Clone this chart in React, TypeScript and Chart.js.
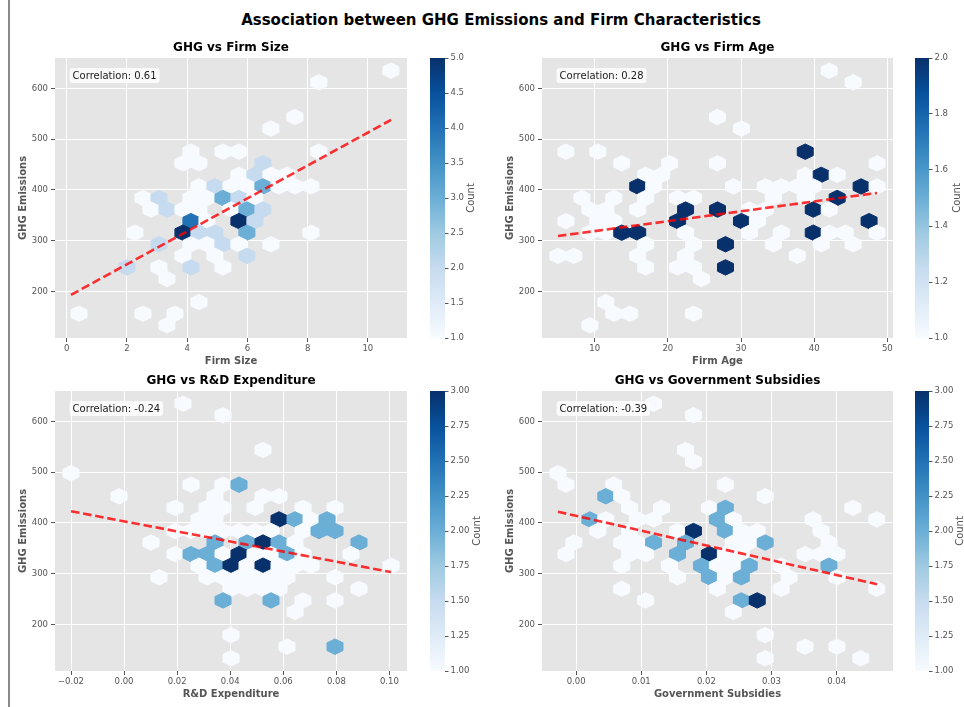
import React, { useEffect, useRef } from 'react';
import { Chart, registerables } from 'chart.js';

Chart.register(...registerables);
Chart.defaults.font.family = "'DejaVu Sans', 'Liberation Sans', sans-serif";

const mainTitle = 'Association between GHG Emissions and Firm Characteristics';

// Shared GHG Emissions axis: hex grid [ymin, row pitch], axis range, ticks
const ghgGrid = [133, 45.64];
const ghgRange = [107.9, 660.1];
const ghgTicks = [200, 300, 400, 500, 600];
const ghgLabel = 'GHG Emissions';

// ---- GHG vs Firm Size ----
const sizeTitle = 'GHG vs Firm Size';
const sizeLabel = 'Firm Size';
const sizeGrid = [0.144, 0.531];
const sizeRange = [-0.387, 11.3];
const sizeTicks = [0, 2, 4, 6, 8, 10];
const sizeTickLabels = ['0', '2', '4', '6', '8', '10'];
// [hex row, hex column, count]
const sizeCells = [
  [22, 20, 1], [21, 15, 1], [18, 14, 1], [17, 12, 1],
  [15, 7, 1], [15, 9, 1], [15, 10, 1], [15, 15, 1],
  [14, 7, 1], [14, 8, 1], [14, 12, 2],
  [13, 10, 1], [13, 11, 2], [13, 12, 1], [13, 13, 1],
  [12, 8, 1], [12, 9, 2], [12, 10, 1], [12, 11, 1], [12, 12, 3], [12, 13, 1], [12, 14, 1], [12, 15, 1],
  [11, 4, 1], [11, 5, 2], [11, 7, 1], [11, 8, 1], [11, 9, 3], [11, 10, 2], [11, 11, 1],
  [10, 5, 1], [10, 6, 2], [10, 7, 1], [10, 8, 1], [10, 10, 1], [10, 11, 3], [10, 12, 2],
  [9, 7, 4], [9, 8, 1], [9, 10, 5], [9, 11, 2],
  [8, 4, 1], [8, 7, 5], [8, 8, 2], [8, 9, 2], [8, 11, 3], [8, 15, 1],
  [7, 5, 2], [7, 7, 1], [7, 8, 1], [7, 9, 2], [7, 10, 1], [7, 12, 1],
  [6, 7, 1], [6, 9, 1], [6, 11, 2],
  [5, 3, 2], [5, 5, 1], [5, 7, 2], [5, 9, 1],
  [4, 6, 1], [2, 8, 1], [1, 0, 1], [1, 4, 1], [1, 6, 1], [0, 6, 1],
];
const sizeFitX = [0.144, 10.77];
const sizeFitY = [193, 538];
const sizeCorr = 'Correlation: 0.61';
const sizeCbTicks = [1, 1.5, 2, 2.5, 3, 3.5, 4, 4.5, 5];
const sizeCbLabels = ['1.0', '1.5', '2.0', '2.5', '3.0', '3.5', '4.0', '4.5', '5.0'];

// ---- GHG vs Firm Age ----
const ageTitle = 'GHG vs Firm Age';
const ageLabel = 'Firm Age';
const ageGrid = [4.97, 2.1815];
const ageRange = [2.79, 50.78];
const ageTicks = [10, 20, 30, 40, 50];
const ageTickLabels = ['10', '20', '30', '40', '50'];
const ageCells = [
  [22, 17, 1], [21, 18, 1], [18, 10, 1], [17, 11, 1],
  [15, 0, 1], [15, 2, 1], [15, 15, 2],
  [14, 4, 1], [14, 7, 1], [14, 10, 1], [14, 20, 1],
  [13, 5, 1], [13, 6, 1], [13, 15, 1], [13, 16, 2], [13, 17, 1],
  [12, 5, 2], [12, 6, 1], [12, 11, 1], [12, 13, 1], [12, 14, 1], [12, 15, 1], [12, 16, 1], [12, 19, 2], [12, 20, 1],
  [11, 1, 1], [11, 3, 1], [11, 5, 1], [11, 7, 1], [11, 8, 1], [11, 13, 1], [11, 15, 1], [11, 17, 2],
  [10, 2, 1], [10, 3, 1], [10, 5, 1], [10, 8, 2], [10, 10, 2], [10, 12, 1], [10, 13, 1], [10, 16, 2], [10, 17, 1],
  [9, 0, 1], [9, 2, 1], [9, 3, 1], [9, 7, 2], [9, 11, 2], [9, 12, 1], [9, 19, 2],
  [8, 2, 1], [8, 3, 1], [8, 4, 2], [8, 5, 2], [8, 8, 1], [8, 12, 1], [8, 14, 1], [8, 16, 2], [8, 17, 1], [8, 18, 1], [8, 20, 1],
  [7, 5, 1], [7, 8, 1], [7, 10, 2], [7, 13, 1], [7, 16, 1], [7, 18, 1],
  [6, 0, 1], [6, 1, 1], [6, 5, 1], [6, 8, 1], [6, 15, 1],
  [5, 5, 1], [5, 7, 1], [5, 8, 1], [5, 10, 2],
  [4, 9, 1], [2, 3, 1], [1, 3, 1], [1, 4, 1], [1, 8, 1], [0, 2, 1],
];
const ageFitX = [4.97, 48.6];
const ageFitY = [309, 394];
const ageCorr = 'Correlation: 0.28';
const ageCbTicks = [1, 1.2, 1.4, 1.6, 1.8, 2];
const ageCbLabels = ['1.0', '1.2', '1.4', '1.6', '1.8', '2.0'];

// ---- GHG vs R&D Expenditure ----
const rdTitle = 'GHG vs R&D Expenditure';
const rdLabel = 'R&D Expenditure';
const rdGrid = [-0.02, 0.00603];
const rdRange = [-0.02603, 0.10663];
const rdTicks = [-0.02, 0, 0.02, 0.04, 0.06, 0.08, 0.1];
const rdTickLabels = ['\u22120.02', '0.00', '0.02', '0.04', '0.06', '0.08', '0.10'];
const rdCells = [
  [22, 7, 1], [21, 9, 1], [18, 12, 1], [16, 0, 1],
  [15, 7, 1], [15, 9, 1], [15, 10, 2],
  [14, 3, 1], [14, 9, 1], [14, 12, 1], [14, 13, 1],
  [13, 6, 1], [13, 8, 1], [13, 9, 1], [13, 11, 1], [13, 14, 1], [13, 16, 1],
  [12, 8, 1], [12, 9, 1], [12, 13, 3], [12, 14, 2], [12, 15, 1], [12, 16, 2],
  [11, 6, 1], [11, 7, 1], [11, 8, 1], [11, 9, 1], [11, 10, 1], [11, 11, 1], [11, 12, 1], [11, 14, 1], [11, 15, 2], [11, 16, 2],
  [10, 5, 1], [10, 9, 2], [10, 11, 2], [10, 12, 3], [10, 13, 2], [10, 14, 1], [10, 18, 2],
  [9, 6, 1], [9, 7, 2], [9, 8, 2], [9, 9, 1], [9, 10, 3], [9, 11, 1], [9, 12, 1], [9, 13, 2], [9, 14, 1], [9, 17, 1],
  [8, 8, 1], [8, 9, 2], [8, 10, 3], [8, 11, 1], [8, 12, 3], [8, 13, 1], [8, 14, 1], [8, 15, 1], [8, 20, 1],
  [7, 5, 1], [7, 8, 1], [7, 9, 1], [7, 10, 1], [7, 11, 1], [7, 12, 1], [7, 13, 1], [7, 16, 1],
  [6, 10, 1], [6, 11, 1], [6, 12, 1], [6, 13, 1], [6, 18, 1],
  [5, 9, 2], [5, 12, 2], [5, 14, 1], [5, 16, 1],
  [4, 14, 1], [2, 10, 1], [1, 13, 1], [1, 16, 2], [0, 10, 1],
];
const rdFitX = [-0.02, 0.1006];
const rdFitY = [423, 303];
const rdCorr = 'Correlation: -0.24';
const rdCbTicks = [1, 1.25, 1.5, 1.75, 2, 2.25, 2.5, 2.75, 3];
const rdCbLabels = ['1.00', '1.25', '1.50', '1.75', '2.00', '2.25', '2.50', '2.75', '3.00'];

// ---- GHG vs Government Subsidies ----
const subTitle = 'GHG vs Government Subsidies';
const subLabel = 'Government Subsidies';
const subGrid = [-0.0028, 0.002448];
const subRange = [-0.00525, 0.04865];
const subTicks = [0, 0.01, 0.02, 0.03, 0.04];
const subTickLabels = ['0.00', '0.01', '0.02', '0.03', '0.04'];
const subCells = [
  [22, 6, 1], [21, 8, 1], [18, 8, 1], [17, 8, 1], [16, 0, 1],
  [15, 0, 1], [15, 3, 1], [15, 10, 1],
  [14, 3, 2], [14, 4, 1], [14, 13, 1],
  [13, 4, 1], [13, 6, 1], [13, 9, 1], [13, 10, 2], [13, 18, 1],
  [12, 2, 2], [12, 3, 1], [12, 5, 1], [12, 6, 1], [12, 10, 2], [12, 11, 1], [12, 16, 1], [12, 20, 1],
  [11, 2, 1], [11, 4, 1], [11, 7, 1], [11, 8, 3], [11, 10, 2], [11, 11, 1], [11, 12, 1], [11, 16, 1],
  [10, 1, 1], [10, 4, 1], [10, 5, 1], [10, 6, 2], [10, 8, 2], [10, 11, 1], [10, 12, 1], [10, 13, 2], [10, 17, 1],
  [9, 0, 1], [9, 4, 1], [9, 5, 1], [9, 7, 2], [9, 9, 3], [9, 10, 1], [9, 11, 1], [9, 15, 1], [9, 16, 1], [9, 17, 1],
  [8, 4, 1], [8, 7, 1], [8, 9, 2], [8, 10, 1], [8, 11, 1], [8, 12, 2], [8, 14, 1], [8, 17, 2],
  [7, 7, 1], [7, 9, 2], [7, 10, 1], [7, 11, 2], [7, 14, 1], [7, 17, 1],
  [6, 4, 1], [6, 10, 1], [6, 14, 1], [6, 20, 1],
  [5, 5, 1], [5, 11, 2], [5, 12, 3],
  [4, 11, 1], [2, 13, 1], [1, 15, 1], [1, 17, 1], [0, 13, 1], [0, 19, 1],
];
const subFitX = [-0.0028, 0.0462];
const subFitY = [422, 279];
const subCorr = 'Correlation: -0.39';
const subCbTicks = [1, 1.25, 1.5, 1.75, 2, 2.25, 2.5, 2.75, 3];
const subCbLabels = ['1.00', '1.25', '1.50', '1.75', '2.00', '2.25', '2.50', '2.75', '3.00'];

// ---- styling / colour map ----
const BLUES = [
  [247, 251, 255], [222, 235, 247], [198, 219, 239], [158, 202, 225], [107, 174, 214],
  [66, 146, 198], [33, 113, 181], [8, 81, 156], [8, 48, 107],
];
function blues(t: number): string {
  const tt = Math.max(0, Math.min(1, t));
  const p = tt * 8;
  const i = Math.min(7, Math.floor(p));
  const f = p - i;
  const a = BLUES[i], b = BLUES[i + 1];
  const c = a.map((v, j) => Math.round(v + (b[j] - v) * f));
  return `rgb(${c[0]},${c[1]},${c[2]})`;
}

const TICK_COLOR = '#555555';
const LABEL_COLOR = '#555555';

const panels = [
  { title: sizeTitle, xLabel: sizeLabel, grid: sizeGrid, range: sizeRange, ticks: sizeTicks, tickLabels: sizeTickLabels, cells: sizeCells, fitX: sizeFitX, fitY: sizeFitY, corr: sizeCorr, cbTicks: sizeCbTicks, cbLabels: sizeCbLabels, left: 55, top: 58, w: 352, h: 280, cbLeft: 430, cbW: 15, countOff: 26 },
  { title: ageTitle, xLabel: ageLabel, grid: ageGrid, range: ageRange, ticks: ageTicks, tickLabels: ageTickLabels, cells: ageCells, fitX: ageFitX, fitY: ageFitY, corr: ageCorr, cbTicks: ageCbTicks, cbLabels: ageCbLabels, left: 542, top: 58, w: 351, h: 280, cbLeft: 915, cbW: 14, countOff: 28 },
  { title: rdTitle, xLabel: rdLabel, grid: rdGrid, range: rdRange, ticks: rdTicks, tickLabels: rdTickLabels, cells: rdCells, fitX: rdFitX, fitY: rdFitY, corr: rdCorr, cbTicks: rdCbTicks, cbLabels: rdCbLabels, left: 55, top: 391, w: 352, h: 280, cbLeft: 430, cbW: 15, countOff: 32 },
  { title: subTitle, xLabel: subLabel, grid: subGrid, range: subRange, ticks: subTicks, tickLabels: subTickLabels, cells: subCells, fitX: subFitX, fitY: subFitY, corr: subCorr, cbTicks: subCbTicks, cbLabels: subCbLabels, left: 542, top: 391, w: 351, h: 280, cbLeft: 915, cbW: 14, countOff: 31 },
];

const Y_AXIS_W = 55;
const TITLE_H = 30;
const X_AXIS_H = 30;
const RIGHT_PAD = 10;

const bgPlugin = {
  id: 'axesBg',
  beforeDraw(chart: any) {
    const { ctx, chartArea: a } = chart;
    ctx.save();
    ctx.fillStyle = '#e5e5e5';
    ctx.fillRect(a.left, a.top, a.right - a.left, a.bottom - a.top);
    ctx.restore();
  },
};

const hexPlugin = {
  id: 'hexbin',
  beforeDatasetsDraw(chart: any) {
    const { ctx, scales } = chart;
    const xs = scales.x, ys = scales.y;
    chart.data.datasets.forEach((ds: any) => {
      if (!ds.hexSize) return;
      const [sx, sy] = ds.hexSize;
      ctx.save();
      ds.data.forEach((p: any, j: number) => {
        const verts = [
          [sx / 2, -sy / 6], [sx / 2, sy / 6], [0, sy / 3],
          [-sx / 2, sy / 6], [-sx / 2, -sy / 6], [0, -sy / 3],
        ];
        ctx.beginPath();
        verts.forEach(([dx, dy], n) => {
          const px = xs.getPixelForValue(p.x + dx);
          const py = ys.getPixelForValue(p.y + dy);
          if (n === 0) ctx.moveTo(px, py); else ctx.lineTo(px, py);
        });
        ctx.closePath();
        ctx.fillStyle = ds.hexColors[j];
        ctx.strokeStyle = ds.hexColors[j];
        ctx.lineWidth = 1;
        ctx.fill();
        ctx.stroke();
      });
      ctx.restore();
    });
  },
};

const corrPlugin = {
  id: 'corrBox',
  afterDatasetsDraw(chart: any, _args: any, opts: any) {
    const { ctx, chartArea: a } = chart;
    const tx = a.left + 0.05 * (a.right - a.left);
    const ty = a.top + 0.05 * (a.bottom - a.top);
    ctx.save();
    ctx.font = "10px 'DejaVu Sans'";
    const w = ctx.measureText(opts.text).width;
    const bx = tx - 3, by = ty - 4, bw = w + 6, bh = 15, r = 3;
    ctx.beginPath();
    ctx.moveTo(bx + r, by);
    ctx.lineTo(bx + bw - r, by);
    ctx.quadraticCurveTo(bx + bw, by, bx + bw, by + r);
    ctx.lineTo(bx + bw, by + bh - r);
    ctx.quadraticCurveTo(bx + bw, by + bh, bx + bw - r, by + bh);
    ctx.lineTo(bx + r, by + bh);
    ctx.quadraticCurveTo(bx, by + bh, bx, by + bh - r);
    ctx.lineTo(bx, by + r);
    ctx.quadraticCurveTo(bx, by, bx + r, by);
    ctx.closePath();
    ctx.fillStyle = 'rgba(255,255,255,0.8)';
    ctx.fill();
    ctx.fillStyle = '#1a1a1a';
    ctx.textBaseline = 'middle';
    ctx.textAlign = 'left';
    ctx.fillText(opts.text, tx, by + bh / 2 + 0.5);
    ctx.restore();
  },
};

const gradientPlugin = {
  id: 'cbGradient',
  beforeDraw(chart: any) {
    const { ctx, chartArea: a } = chart;
    const g = ctx.createLinearGradient(0, a.bottom, 0, a.top);
    BLUES.forEach((c, i) => g.addColorStop(i / 8, `rgb(${c[0]},${c[1]},${c[2]})`));
    ctx.save();
    ctx.fillStyle = g;
    ctx.fillRect(a.left, a.top, a.right - a.left, a.bottom - a.top);
    ctx.restore();
  },
};

const countPlugin = {
  id: 'cbLabel',
  afterDraw(chart: any, _args: any, opts: any) {
    const { ctx, chartArea: a } = chart;
    ctx.save();
    ctx.translate(a.right + opts.offset, (a.top + a.bottom) / 2);
    ctx.rotate(-Math.PI / 2);
    ctx.font = "10px 'DejaVu Sans'";
    ctx.fillStyle = LABEL_COLOR;
    ctx.textAlign = 'center';
    ctx.textBaseline = 'middle';
    ctx.fillText(opts.text, 0, 0);
    ctx.restore();
  },
};

function Panel({ p }: { p: any }) {
  const ref = useRef<HTMLCanvasElement>(null);
  const cw = Y_AXIS_W + p.w + RIGHT_PAD;
  const chh = TITLE_H + p.h + X_AXIS_H;
  useEffect(() => {
    const vmin = p.cbTicks[0];
    const vmax = p.cbTicks[p.cbTicks.length - 1];
    const hexPts = p.cells.map(([k, i]: number[]) => ({
      x: p.grid[0] + (k % 2 === 0 ? i : i + 0.5) * p.grid[1],
      y: ghgGrid[0] + (k * ghgGrid[1]) / 2,
    }));
    const hexColors = p.cells.map((c: number[]) => blues((c[2] - vmin) / (vmax - vmin)));
    const fitPts = p.fitX.map((x: number, i: number) => ({ x, y: p.fitY[i] }));
    const chart = new Chart(ref.current as HTMLCanvasElement, {
      type: 'scatter',
      data: {
        datasets: [
          { type: 'scatter', data: hexPts, pointRadius: 0, pointHoverRadius: 0, hexSize: [p.grid[1], ghgGrid[1]], hexColors } as any,
          { type: 'line', data: fitPts, borderColor: 'rgba(255,0,0,0.8)', borderWidth: 2.6, borderDash: [8.5, 3.8], pointRadius: 0, fill: false } as any,
        ],
      },
      options: {
        responsive: false,
        animation: false,
        events: [],
        layout: { padding: { left: 0, right: RIGHT_PAD, top: 0, bottom: 0 } },
        plugins: {
          legend: { display: false },
          tooltip: { enabled: false },
          title: {
            display: true, fullSize: false, text: p.title, color: '#000',
            font: { size: 12, weight: 'bold' }, padding: { top: 12.8, bottom: 2.8 },
          },
          corrBox: { text: p.corr },
        } as any,
        scales: {
          x: {
            type: 'linear', min: p.range[0], max: p.range[1],
            afterBuildTicks: (s: any) => { s.ticks = p.ticks.map((v: number) => ({ value: v })); },
            afterFit: (s: any) => { s.height = X_AXIS_H; },
            ticks: { color: TICK_COLOR, font: { size: 8.5 }, padding: 2, maxRotation: 0, autoSkip: false, callback: (_v: any, i: number) => p.tickLabels[i] },
            grid: { color: '#ffffff', lineWidth: 1, tickLength: 4, tickColor: TICK_COLOR, tickWidth: 1 },
            border: { display: false },
            title: { display: true, text: p.xLabel, color: LABEL_COLOR, font: { size: 10, weight: 'bold' }, padding: { top: 0, bottom: 1 } },
          },
          y: {
            type: 'linear', min: ghgRange[0], max: ghgRange[1],
            afterBuildTicks: (s: any) => { s.ticks = ghgTicks.map((v) => ({ value: v })); },
            afterFit: (s: any) => { s.width = Y_AXIS_W; },
            ticks: { color: TICK_COLOR, font: { size: 8.5 }, padding: 3, autoSkip: false, callback: (v: any) => String(v) },
            grid: { color: '#ffffff', lineWidth: 1, tickLength: 4, tickColor: TICK_COLOR, tickWidth: 1 },
            border: { display: false },
            title: { display: true, text: ghgLabel, color: LABEL_COLOR, font: { size: 10, weight: 'bold' }, padding: { top: 17, bottom: 0 } },
          },
        } as any,
      },
      plugins: [bgPlugin, hexPlugin, corrPlugin],
    } as any);
    return () => chart.destroy();
  }, []);
  return (
    <canvas
      ref={ref}
      width={cw}
      height={chh}
      style={{ position: 'absolute', left: p.left - Y_AXIS_W, top: p.top - TITLE_H, width: cw, height: chh }}
    />
  );
}

function ColorBar({ p }: { p: any }) {
  const ref = useRef<HTMLCanvasElement>(null);
  const cw = p.cbW + 48;
  const chh = p.h + 20;
  useEffect(() => {
    const chart = new Chart(ref.current as HTMLCanvasElement, {
      type: 'scatter',
      data: { datasets: [] },
      options: {
        responsive: false,
        animation: false,
        events: [],
        layout: { padding: { left: 0, right: 0, top: 10, bottom: 10 } },
        plugins: {
          legend: { display: false },
          tooltip: { enabled: false },
          cbLabel: { text: 'Count', offset: p.countOff },
        } as any,
        scales: {
          x: { display: false, min: 0, max: 1 },
          y: {
            type: 'linear', position: 'right',
            min: p.cbTicks[0], max: p.cbTicks[p.cbTicks.length - 1],
            afterBuildTicks: (s: any) => { s.ticks = p.cbTicks.map((v: number) => ({ value: v })); },
            afterFit: (s: any) => { s.width = cw - p.cbW; },
            ticks: { color: TICK_COLOR, font: { size: 8.5 }, padding: 2, autoSkip: false, callback: (_v: any, i: number) => p.cbLabels[i] },
            grid: { drawOnChartArea: false, tickLength: 3.5, tickColor: TICK_COLOR, tickWidth: 1 },
            border: { display: false },
          },
        } as any,
      },
      plugins: [gradientPlugin, countPlugin],
    } as any);
    return () => chart.destroy();
  }, []);
  return (
    <canvas
      ref={ref}
      width={cw}
      height={chh}
      style={{ position: 'absolute', left: p.cbLeft, top: p.top - 10, width: cw, height: chh }}
    />
  );
}

export default function App() {
  return (
    <div style={{ position: 'absolute', left: 0, top: 0, width: 964, height: 707, overflow: 'hidden', background: '#ffffff' }}>
      <div style={{ position: 'absolute', left: 8, top: 0, width: 1.5, height: 707, background: '#8a8a8a' }} />
      <div
        style={{
          position: 'absolute', left: 0, top: 10, width: 1002, textAlign: 'center',
          font: "bold 15px 'DejaVu Sans', sans-serif", lineHeight: '20px', color: '#000',
        }}
      >
        {mainTitle}
      </div>
      {panels.map((p, i) => (
        <React.Fragment key={i}>
          <Panel p={p} />
          <ColorBar p={p} />
        </React.Fragment>
      ))}
    </div>
  );
}
